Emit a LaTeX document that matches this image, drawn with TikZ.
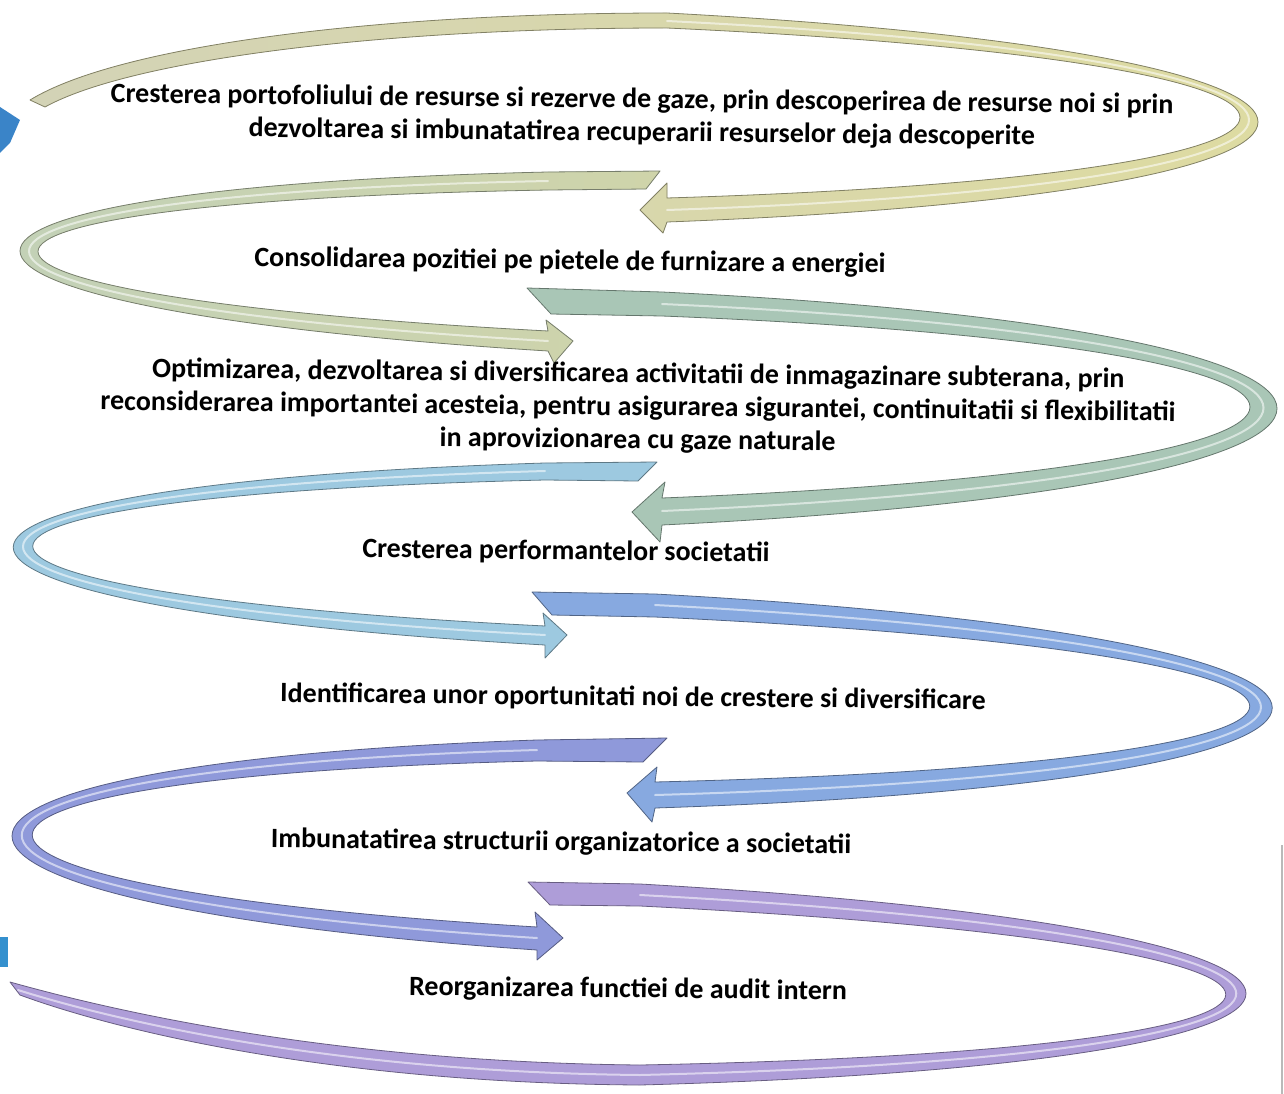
\documentclass[tikz,border=0pt]{standalone}
\usepackage{fontspec}
\setmainfont{Carlito}
\definecolor{bA}{HTML}{D9D7A8}
\definecolor{bAl}{HTML}{D3D3B6}
\definecolor{bAr}{HTML}{DFDC9E}
\definecolor{bB}{HTML}{C6D2B4}
\definecolor{bBl}{HTML}{BFD0BA}
\definecolor{bBr}{HTML}{CFD4AA}
\definecolor{bC}{HTML}{A9C6B6}
\definecolor{bD}{HTML}{9DC9E0}
\definecolor{bE}{HTML}{87A9E0}
\definecolor{bF}{HTML}{8F99DA}
\definecolor{bG}{HTML}{AE9DD8}
\definecolor{edgeblue}{HTML}{3A84C8}
\tikzset{
  band/.style={draw=#1!60!black, fill=#1, line width=0.8pt, line join=round},
  shine/.style={draw=white, opacity=0.55, line width=2pt, line cap=round},
  lbl/.style={font=\fontsize{28}{33}\selectfont\bfseries, align=center, inner sep=0pt, rotate=-0.6},
}
\begin{document}
\begin{tikzpicture}[x=1pt,y=-1pt]
\fill[white] (0,0) rectangle (1284,1094);
\useasboundingbox (0,0) rectangle (1284,1094);

% fragments at the edges
\fill[edgeblue] (0,107) -- (20,120) -- (10,143) -- (0,153) -- cycle;
\fill[edgeblue!90!cyan] (0,937) rectangle (8,967);
\draw[gray!55, line width=1.2pt] (1282,845) -- (1282,1094);

% band 1
\path[band=bA, left color=bAl, right color=bAr] (30,100) .. controls (120,45) and (380,13) .. (667,13)
  .. controls (1455,55) and (1455,192) .. (667,222)
  -- (663,233) -- (640,210) -- (667,183) -- (667,198)
  .. controls (1431,175) and (1431,63) .. (667,28)
  .. controls (380,28) and (130,60) .. (45,107) -- cycle;
\draw[shine] (667,21) .. controls (1443,59) and (1443,184) .. (667,210);

% band 2
\path[band=bB, left color=bBl, right color=bBr] (660,171) -- (548,172) .. controls (-156,188) and (-156,307) .. (548,351)
  -- (554,363) -- (573,341) -- (546,320) -- (548,331)
  .. controls (-132,295) and (-132,202) .. (548,190) -- (646,189) -- cycle;
\draw[shine] (548,181) .. controls (-144,195) and (-144,301) .. (548,341);

% band 3
\path[band=bC] (527,288) -- (662,292) .. controls (1482,332) and (1482,485) .. (662,525)
  -- (660,542) -- (632,512) -- (665,482) -- (662,498)
  .. controls (1446,467) and (1446,347) .. (662,316) -- (551,314) -- cycle;
\draw[shine] (662,304) .. controls (1464,340) and (1464,476) .. (662,511);

% band 4
\path[band=bD] (657,462) -- (545,463) .. controls (-164,485) and (-164,605) .. (545,645)
  -- (545,658) -- (567,635) -- (543,613) -- (545,626)
  .. controls (-138,592) and (-138,496) .. (545,480) -- (638,481) -- cycle;
\draw[shine] (545,471) .. controls (-151,491) and (-151,598) .. (545,635);

% band 5
\path[band=bE] (532,592) -- (655,594) .. controls (1478,639) and (1478,781) .. (655,808)
  -- (652,822) -- (627,793) -- (657,767) -- (655,782)
  .. controls (1448,763) and (1448,654) .. (655,617) -- (552,615) -- cycle;
\draw[shine] (655,605) .. controls (1463,647) and (1463,772) .. (655,795);

% band 6
\path[band=bF] (667,738) -- (537,740) .. controls (-163,764) and (-163,902) .. (537,950)
  -- (537,960) -- (563,938) -- (535,912) -- (537,927)
  .. controls (-136,887) and (-136,777) .. (537,761) -- (643,762) -- cycle;
\draw[shine] (537,750) .. controls (-150,770) and (-150,895) .. (537,938);

% band 7
\path[band=bG] (528,882) -- (640,884) .. controls (1448,930) and (1448,1063) .. (640,1085)
  .. controls (330,1083) and (115,1030) .. (20,995) -- (10,982)
  .. controls (110,1010) and (330,1062) .. (640,1065)
  .. controls (1421,1050) and (1421,945) .. (640,906) -- (550,905) -- cycle;
\draw[shine] (640,895) .. controls (1435,937) and (1435,1056) .. (640,1075)
  .. controls (330,1072) and (113,1020) .. (18,990);

% texts
\node[lbl] (t1) at (642,117) {Cresterea portofoliului de resurse si rezerve de gaze, prin descoperirea de resurse noi si prin\\dezvoltarea si imbunatatirea recuperarii resurselor deja descoperite};
\node[lbl] (t2) at (570,262) {Consolidarea pozitiei pe pietele de furnizare a energiei};
\node[lbl] (t3) at (638,408) {Optimizarea, dezvoltarea si diversificarea activitatii de inmagazinare subterana, prin\\reconsiderarea importantei acesteia, pentru asigurarea sigurantei, continuitatii si flexibilitatii\\in aprovizionarea cu gaze naturale};
\node[lbl] (t4) at (566,552) {Cresterea performantelor societatii};
\node[lbl] (t5) at (633,698) {Identificarea unor oportunitati noi de crestere si diversificare};
\node[lbl] (t6) at (561,843) {Imbunatatirea structurii organizatorice a societatii};
\node[lbl] (t7) at (628,990) {Reorganizarea functiei de audit intern};
\end{tikzpicture}
\end{document}
